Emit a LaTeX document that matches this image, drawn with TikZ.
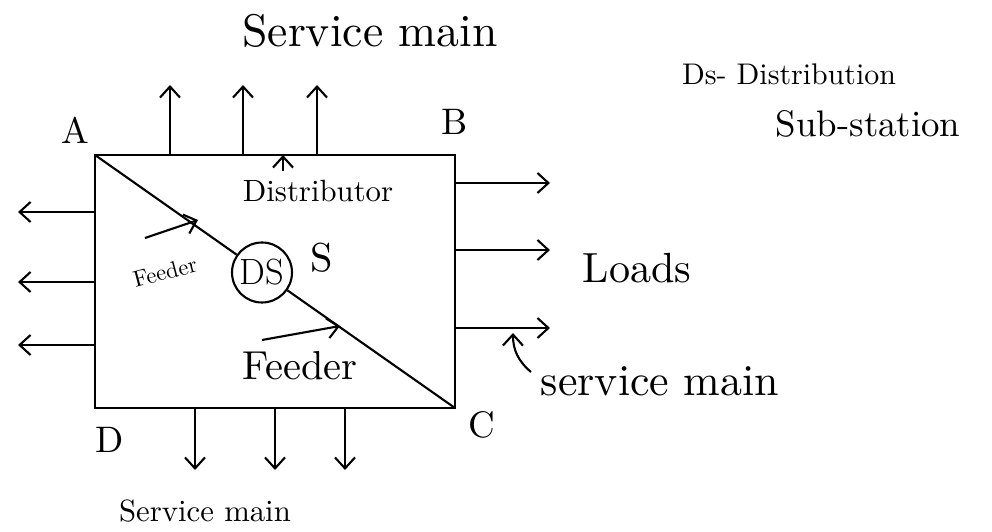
\documentclass[tikz,border=0pt]{standalone}
\usepackage{amsmath}
\usepackage{amssymb}
\usetikzlibrary{arrows.meta}

\begin{document}
\begin{tikzpicture}[line width=1.2pt,>={Straight Barb[length=2.2mm,width=4mm]}]
    \useasboundingbox (0,0) rectangle (19.84,10.62);
    % ring main corners
    \coordinate (A) at (1.9,7.52);
    \coordinate (B) at (9.1,7.52);
    \coordinate (C) at (9.1,2.46);
    \coordinate (D) at (1.9,2.46);
    \draw (A) -- (B) -- (C) -- (D) -- cycle;
    \node[scale=2.1] (la) at (1.5,8.02) {A};
    \node[scale=2.1] (lb) at (9.1,8.18) {B};
    \node[scale=2.1] (lc) at (9.64,2.12) {C};
    \node[scale=2.1] (ld) at (2.2,1.82) {D};
    % substation on the feeder
    \node[shape=circle,draw=black,minimum size=1.2cm,inner sep=0pt,font=\huge] (ds) at (5.24,5.17) {DS};
    \node[scale=2.3] (s) at (6.44,5.46) {S};
    \path (A) edge (ds);
    \path (ds) edge (C);
     % service mains, top
    \coordinate (t1) at (3.4,7.52);
    \coordinate (t1e) at (3.4,8.92);
    \coordinate (t2) at (4.86,7.52);
    \coordinate (t2e) at (4.86,8.92);
    \coordinate (t3) at (6.34,7.52);
    \coordinate (t3e) at (6.34,8.92);
    \path [->] (t1) edge (t1e);
    \path [->] (t2) edge (t2e);
    \path [->] (t3) edge (t3e);
    \node[scale=2.6] (smtop) at (7.4,10.0) {Service main};
     % service mains, left
    \coordinate (l1) at (1.9,6.38);
    \coordinate (l1e) at (0.36,6.38);
    \coordinate (l2) at (1.9,4.98);
    \coordinate (l2e) at (0.36,4.98);
    \coordinate (l3) at (1.9,3.72);
    \coordinate (l3e) at (0.36,3.72);
    \path [->] (l1) edge (l1e);
    \path [->] (l2) edge (l2e);
    \path [->] (l3) edge (l3e);
     % service mains, right
    \coordinate (r1) at (9.1,6.96);
    \coordinate (r1e) at (11.0,6.96);
    \coordinate (r2) at (9.1,5.62);
    \coordinate (r2e) at (11.0,5.62);
    \coordinate (r3) at (9.1,4.06);
    \coordinate (r3e) at (11.0,4.06);
    \path [->] (r1) edge (r1e);
    \path [->] (r2) edge (r2e);
    \path [->] (r3) edge (r3e);
    \node[scale=2.4] (loads) at (12.74,5.26) {Loads};
    \node[scale=2.5] (smright) at (13.2,3.0) {service main};
    \coordinate (smr) at (10.62,3.18);
    \coordinate (smrtip) at (10.26,3.96);
    \draw [->] (smr) to[bend left=25] (smrtip);
     % service mains, bottom
    \coordinate (b1) at (3.9,2.46);
    \coordinate (b1e) at (3.9,1.22);
    \coordinate (b2) at (5.5,2.46);
    \coordinate (b2e) at (5.5,1.22);
    \coordinate (b3) at (6.9,2.46);
    \coordinate (b3e) at (6.9,1.22);
    \path [->] (b1) edge (b1e);
    \path [->] (b2) edge (b2e);
    \path [->] (b3) edge (b3e);
    \node[scale=1.75] (smbot) at (4.1,0.4) {Service main};
    % distributor and feeder labels
    \node[scale=1.75] (dist) at (6.36,6.8) {Distributor};
    \coordinate (distfoot) at (5.66,7.2);
    \coordinate (disttip) at (5.66,7.52);
    \path [->] (distfoot) edge (disttip);
    \node[scale=1.3,rotate=15] (fdup) at (3.3,5.18) {Feeder};
    \coordinate (fdupa) at (2.9,5.86);
    \coordinate (fdupb) at (3.96,6.22);
    \path [->] (fdupa) edge (fdupb);
    \node[scale=2.3] (fdlow) at (6.0,3.3) {Feeder};
    \coordinate (fdlowa) at (5.24,3.82);
    \coordinate (fdlowb) at (6.8,4.1);
    \path [->] (fdlowa) edge (fdlowb);
    % key
    \node[scale=1.7] (key1) at (15.78,9.14) {Ds- Distribution};
    \node[scale=2.1] (key2) at (17.36,8.14) {Sub-station};
\end{tikzpicture}
\end{document}
